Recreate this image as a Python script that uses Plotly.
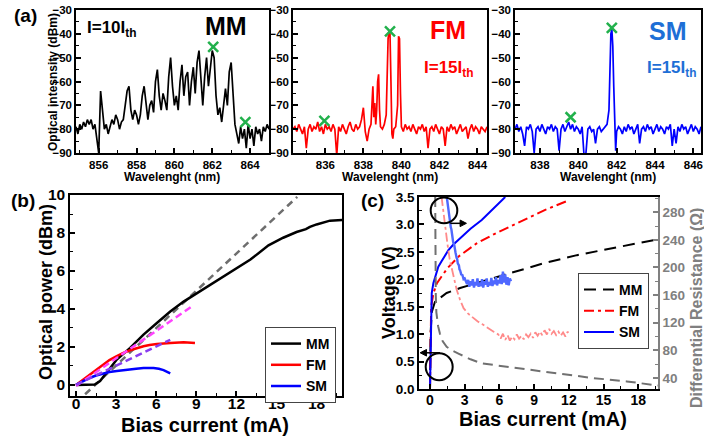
import plotly.graph_objects as go

W, H = 704, 437
FONT = "Liberation Sans"

# ---------------- (a) spectra ----------------
mm_wl = [854.8, 854.9, 855.0, 855.1, 855.2, 855.3, 855.4, 855.5, 855.6, 855.7, 855.8, 855.9,
         856.0, 856.1, 856.2, 856.3, 856.4, 856.5, 856.6, 856.7, 856.8, 856.9, 857.0, 857.1,
         857.2, 857.3, 857.4, 857.5, 857.6, 857.7, 857.8, 857.9, 858.0, 858.1, 858.2, 858.3,
         858.4, 858.5, 858.6, 858.7, 858.8, 858.9, 859.0, 859.1, 859.2, 859.3, 859.4, 859.5,
         859.6, 859.7, 859.8, 859.9, 860.0, 860.1, 860.2, 860.3, 860.4, 860.5, 860.6, 860.7,
         860.8, 860.9, 861.0, 861.1, 861.2, 861.3, 861.4, 861.5, 861.6, 861.7, 861.8, 861.9,
         862.0, 862.1, 862.2, 862.3, 862.4, 862.5, 862.6, 862.7, 862.8, 862.9, 863.0, 863.1,
         863.2, 863.3, 863.4, 863.5, 863.6, 863.7, 863.8, 863.9, 864.0, 864.1, 864.2, 864.3,
         864.4, 864.5, 864.6, 864.7, 864.8, 864.9, 865.0]
mm_db = [-79, -82, -78, -80, -77, -79, -76, -78, -76, -80, -78, -83,
         -90, -64, -72, -80, -78, -82, -79, -76, -78, -74, -76, -80,
         -77, -76, -70, -64, -62, -72, -76, -72, -74, -78, -74, -66,
         -62, -70, -76, -70, -68, -73, -60, -55, -66, -72, -65, -68,
         -72, -58, -50, -62, -70, -66, -72, -60, -53, -66, -58, -56,
         -70, -60, -54, -65, -52, -47, -60, -70, -58, -50, -62, -54,
         -47, -50, -66, -74, -71, -77, -70, -63, -70, -56, -52, -66,
         -78, -82, -86, -79, -84, -80, -88, -78, -84, -80, -87, -79,
         -82, -80, -85, -79, -81, -78, -80]

fm_wl = [834.3, 834.4, 834.5, 834.6, 834.7, 834.8, 834.9, 835.0, 835.1, 835.2, 835.3, 835.4,
         835.5, 835.6, 835.7, 835.8, 835.9, 836.0, 836.1, 836.2, 836.3, 836.4, 836.5, 836.6,
         836.7, 836.8, 836.9, 837.0, 837.1, 837.2, 837.3, 837.4, 837.5, 837.6, 837.7, 837.8,
         837.9, 838.0, 838.05, 838.1, 838.2, 838.3, 838.4, 838.45, 838.5, 838.55, 838.6, 838.65,
         838.7, 838.75, 838.8, 838.85, 838.9, 839.0, 839.1, 839.2, 839.25, 839.3, 839.35, 839.4,
         839.45, 839.5, 839.55, 839.6, 839.7, 839.8, 839.85, 839.9, 839.95, 840.0, 840.1, 840.2,
         840.3, 840.4, 840.5, 840.6, 840.7, 840.8, 840.9, 841.0, 841.1, 841.2, 841.3, 841.4,
         841.5, 841.6, 841.7, 841.8, 841.9, 842.0, 842.1, 842.2, 842.3, 842.4, 842.5, 842.6,
         842.7, 842.8, 842.9, 843.0, 843.1, 843.2, 843.3, 843.4, 843.5, 843.6, 843.7, 843.8,
         843.9, 844.0, 844.1, 844.2, 844.3, 844.4, 844.5]
fm_db = [-80, -79, -81, -78, -80, -82, -79, -88, -80, -78, -81, -79,
         -80, -77, -81, -79, -82, -78, -80, -79, -81, -78, -80, -91,
         -79, -81, -78, -80, -82, -79, -77, -80, -81, -78, -80, -79,
         -76, -71, -78, -81, -85, -80, -78, -70, -62, -75, -69, -78,
         -72, -60, -57, -72, -79, -80, -78, -74, -50, -42, -39, -40,
         -60, -82, -84, -80, -79, -70, -41, -42, -65, -79, -81, -78,
         -80, -79, -81, -78, -80, -82, -79, -80, -78, -81, -79, -88,
         -80, -79, -81, -78, -80, -82, -79, -80, -87, -79, -81, -78,
         -80, -79, -82, -80, -78, -81, -80, -79, -84, -80, -78, -81,
         -79, -80, -82, -79, -80, -81, -79]

sm_wl = [836.7, 836.8, 836.9, 837.0, 837.1, 837.2, 837.3, 837.4, 837.5, 837.6, 837.7, 837.8,
         837.9, 838.0, 838.1, 838.2, 838.3, 838.4, 838.5, 838.6, 838.7, 838.8, 838.9, 839.0,
         839.1, 839.2, 839.3, 839.4, 839.5, 839.6, 839.7, 839.8, 839.9, 840.0, 840.1, 840.2,
         840.3, 840.4, 840.5, 840.6, 840.7, 840.8, 840.9, 841.0, 841.1, 841.2, 841.3, 841.4,
         841.5, 841.6, 841.65, 841.7, 841.75, 841.8, 841.85, 841.9, 841.95, 842.0, 842.1, 842.2,
         842.3, 842.4, 842.5, 842.6, 842.7, 842.8, 842.9, 843.0, 843.1, 843.2, 843.3, 843.4,
         843.5, 843.6, 843.7, 843.8, 843.9, 844.0, 844.1, 844.2, 844.3, 844.4, 844.5, 844.6,
         844.7, 844.8, 844.9, 845.0, 845.1, 845.2, 845.3, 845.4, 845.5, 845.6, 845.7, 845.8,
         845.9, 846.0, 846.1, 846.2, 846.3, 846.4]
sm_db = [-80, -78, -81, -79, -82, -87, -79, -80, -78, -81, -90, -80,
         -79, -81, -78, -80, -82, -79, -80, -78, -81, -79, -80, -89,
         -80, -78, -81, -79, -77, -80, -78, -81, -79, -80, -82, -79,
         -91, -90, -80, -79, -81, -80, -86, -80, -79, -81, -80, -79,
         -78, -72, -55, -40, -38, -45, -62, -80, -89, -81, -79, -80,
         -82, -79, -81, -78, -80, -79, -82, -80, -78, -86, -80, -79,
         -81, -78, -80, -79, -82, -80, -78, -81, -79, -80, -82, -79,
         -80, -78, -87, -80, -86, -79, -81, -78, -80, -79, -82, -80,
         -78, -81, -79, -80, -82, -79]

mm_marks_wl = [862.05, 863.75]
mm_marks_db = [-45.5, -77]
fm_marks_wl = [835.95, 839.4]
fm_marks_db = [-76.5, -39]
sm_marks_wl = [839.6, 841.75]
sm_marks_db = [-75, -37.5]

# ---------------- (b) L-I ----------------
b_mm_i = [0, 0.5, 1.0, 1.4, 1.8, 2.3, 3.05, 4.05, 5.05, 6.05, 7.05, 8.05, 9.05,
          10.05, 11.05, 12.05, 13.05, 14.4, 15.5, 16.5, 17.2, 17.5, 18.0, 19.0, 19.9]
b_mm_p = [0, 0.0, 0.0, 0.02, 0.21, 0.64, 1.34, 1.95, 2.65, 3.26, 3.87, 4.39, 4.83,
          5.26, 5.7, 6.13, 6.6, 7.35, 7.75, 8.05, 8.2, 8.32, 8.45, 8.65, 8.68]
b_fm_i = [0, 0.5, 1.05, 1.5, 2.05, 2.5, 3.05, 3.5, 4.05, 4.5, 5.05, 5.5, 6.05, 7.05, 8.05, 8.9]
b_fm_p = [0, 0.27, 0.53, 0.8, 1.08, 1.31, 1.52, 1.68, 1.83, 1.94, 2.04, 2.1, 2.16, 2.21, 2.25, 2.21]
b_sm_i = [0, 0.5, 1.05, 1.5, 2.05, 2.5, 3.05, 3.5, 4.05, 4.5, 5.05, 5.5, 5.8, 6.2, 6.55, 7.05]
b_sm_p = [0, 0.2, 0.38, 0.5, 0.61, 0.68, 0.73, 0.78, 0.82, 0.86, 0.89, 0.9, 0.89, 0.85, 0.78, 0.61]
fit_mm_i = [0.68, 16.55]
fit_mm_p = [-0.49, 9.9]
fit_fm_i = [0.0, 8.8]
fit_fm_p = [-0.05, 4.2]
fit_sm_i = [0.0, 7.05]
fit_sm_p = [0.0, 2.38]

# ---------------- (c) V-I and differential resistance ----------------
c_mm_i = [0, 0.05, 0.15, 0.43, 1.44, 2.6, 4.0, 6.9, 9.8, 12.7, 15.6, 19.7]
c_mm_v = [0, 1.0, 1.4, 1.59, 1.75, 1.84, 1.93, 2.11, 2.29, 2.44, 2.56, 2.73]
c_fm_i = [0, 0.05, 0.1, 0.3, 0.6, 1.0, 1.5, 2.5, 4.0, 5.5, 7.0, 8.5, 10.0, 12.0]
c_fm_v = [0, 0.8, 1.5, 1.75, 1.93, 2.05, 2.2, 2.42, 2.65, 2.82, 2.97, 3.12, 3.27, 3.44]
c_sm_i = [0, 0.03, 0.06, 0.09, 0.15, 0.29, 0.5, 0.72, 1.0, 1.59, 2.0, 2.74, 3.5, 4.47, 5.5, 6.5]
c_sm_v = [0, 0.5, 1.0, 1.5, 1.75, 1.93, 2.1, 2.23, 2.33, 2.53, 2.63, 2.78, 2.92, 3.08, 3.3, 3.5]

r_mm_i = [0.45, 0.45, 0.48, 0.5, 0.55, 0.7, 0.86, 1.1, 1.44, 2.0, 2.5, 3.5, 4.5, 6.8, 9.8,
          11.5, 14.0, 17.0, 19.7]
r_mm_r = [302, 250, 200, 160, 135, 115, 104, 93, 85, 79, 75, 67, 61, 56, 49, 45, 40, 35, 29]

r_fm_i = [1.0, 1.15, 1.3, 1.5, 1.7, 1.9, 2.1, 2.3, 2.6, 2.9, 3.3, 3.7, 4.1, 4.5, 5.0, 5.5, 5.9,
          6.1, 6.3, 6.5, 6.7, 6.9, 7.1, 7.3, 7.5, 7.7, 7.9, 8.1, 8.3, 8.5, 8.7, 8.9, 9.1, 9.3,
          9.5, 9.7, 9.9, 10.1, 10.3, 10.5, 10.7, 10.9, 11.1, 11.3, 11.5, 11.7, 11.9, 12.0]
r_fm_r = [302, 280, 258, 235, 212, 197, 182, 168, 153, 141, 133, 127, 122, 118, 112, 107, 103,
          97, 104, 95, 102, 94, 100, 96, 103, 97, 101, 96, 103, 99, 104, 98, 106, 101,
          107, 102, 109, 103, 111, 104, 108, 102, 107, 101, 106, 100, 107, 103]

r_sm_i = [1.45, 1.55, 1.6, 1.7, 1.75, 1.8, 1.85, 1.9, 1.95, 2.0, 2.1, 2.15, 2.2, 2.3, 2.35, 2.4,
          2.5, 2.55, 2.6, 2.7, 2.8, 2.9, 3.0, 3.1, 3.2, 3.3, 3.4, 3.5, 3.6, 3.7, 3.8, 3.9, 4.0,
          4.1, 4.2, 4.3, 4.4, 4.5, 4.6, 4.7, 4.8, 4.9, 5.0, 5.1, 5.2, 5.3, 5.4, 5.5, 5.6, 5.7,
          5.8, 5.9, 6.0, 6.1, 6.2, 6.3, 6.4, 6.5, 6.6, 6.7, 6.8, 6.9, 7.0]
r_sm_r = [302, 288, 282, 270, 266, 258, 255, 247, 245, 237, 232, 224, 222, 214, 212, 206,
          203, 197, 196, 190, 189, 183, 184, 180, 176, 182, 172, 180, 174, 183, 171, 179, 174,
          184, 172, 178, 173, 183, 171, 180, 175, 184, 172, 179, 174, 185, 173, 181, 176, 186,
          174, 182, 177, 189, 176, 194, 178, 190, 175, 186, 174, 184, 180]


def px(x):
    return x / W


def py(y):
    return 1 - y / H


def axis(dom, rng, dtick, mdtick, fsize, anchor, tick0=0, color="black", linecolor="black",
         mirror=True, **kw):
    d = dict(domain=dom, range=rng, dtick=dtick, tick0=tick0, ticks="inside", ticklen=5,
             tickwidth=1.5, tickcolor=linecolor,
             minor=dict(ticks="inside", ticklen=3, dtick=mdtick, tick0=tick0,
                        tickcolor=linecolor, tickwidth=1.2),
             showline=True, linecolor=linecolor, linewidth=1.5, mirror=mirror,
             showgrid=False, zeroline=False, anchor=anchor, automargin=False,
             tickfont=dict(family=FONT, size=fsize, color=color, weight="bold"))
    d.update(kw)
    return d


fig = go.Figure()

GREEN = "#22b14c"
for xa, ya, wl, db, col, mwl, mdb in [
    ("x", "y", mm_wl, mm_db, "black", mm_marks_wl, mm_marks_db),
    ("x2", "y2", fm_wl, fm_db, "#ff0000", fm_marks_wl, fm_marks_db),
    ("x3", "y3", sm_wl, sm_db, "#0000ff", sm_marks_wl, sm_marks_db),
]:
    fig.add_trace(go.Scatter(x=wl, y=db, mode="lines", line=dict(color=col, width=1.7),
                             xaxis=xa, yaxis=ya, showlegend=False))
    fig.add_trace(go.Scatter(x=mwl, y=mdb, mode="markers", xaxis=xa, yaxis=ya,
                             marker=dict(symbol="x-thin", size=10, color=GREEN,
                                         line=dict(color=GREEN, width=2.5)),
                             showlegend=False, cliponaxis=False))

# (b)
fig.add_trace(go.Scatter(x=fit_mm_i, y=fit_mm_p, mode="lines", xaxis="x4", yaxis="y4",
                         line=dict(color="#6e6e6e", width=2.5, dash="7px,5px"), showlegend=False))
fig.add_trace(go.Scatter(x=b_mm_i, y=b_mm_p, mode="lines", xaxis="x4", yaxis="y4", name="MM",
                         line=dict(color="black", width=2.5), legend="legend"))
fig.add_trace(go.Scatter(x=b_fm_i, y=b_fm_p, mode="lines", xaxis="x4", yaxis="y4", name="FM",
                         line=dict(color="#ff0000", width=2.5), legend="legend"))
fig.add_trace(go.Scatter(x=b_sm_i, y=b_sm_p, mode="lines", xaxis="x4", yaxis="y4", name="SM",
                         line=dict(color="#0000ff", width=2.5), legend="legend"))
fig.add_trace(go.Scatter(x=fit_fm_i, y=fit_fm_p, mode="lines", xaxis="x4", yaxis="y4",
                         line=dict(color="#ff44ff", width=2.5, dash="7px,4px"), showlegend=False))
fig.add_trace(go.Scatter(x=fit_sm_i, y=fit_sm_p, mode="lines", xaxis="x4", yaxis="y4",
                         line=dict(color="#8a3cf0", width=2.5, dash="7px,4px"), showlegend=False))

# (c) resistance (right axis)
fig.add_trace(go.Scatter(x=r_mm_i, y=r_mm_r, mode="lines", xaxis="x5", yaxis="y6",
                         line=dict(color="#707070", width=2, dash="10px,6px"), showlegend=False))
fig.add_trace(go.Scatter(x=r_fm_i, y=r_fm_r, mode="lines", xaxis="x5", yaxis="y6",
                         line=dict(color="#ff8a8a", width=1.8, dash="9px,3px,3px,3px"),
                         showlegend=False))
fig.add_trace(go.Scatter(x=r_sm_i, y=r_sm_r, mode="lines", xaxis="x5", yaxis="y6",
                         line=dict(color="#4f68ff", width=2.4), showlegend=False))
# (c) voltage
fig.add_trace(go.Scatter(x=c_mm_i, y=c_mm_v, mode="lines", xaxis="x5", yaxis="y5", name="MM",
                         line=dict(color="black", width=2, dash="12px,7px"), legend="legend2"))
fig.add_trace(go.Scatter(x=c_fm_i, y=c_fm_v, mode="lines", xaxis="x5", yaxis="y5", name="FM",
                         line=dict(color="#ff0000", width=2, dash="10px,4px,3px,4px"),
                         legend="legend2"))
fig.add_trace(go.Scatter(x=c_sm_i, y=c_sm_v, mode="lines", xaxis="x5", yaxis="y5", name="SM",
                         line=dict(color="#0000ff", width=2), legend="legend2"))

ydomA = [py(153), py(10)]
leg = dict(xanchor="left", yanchor="top", bgcolor="white", bordercolor="#444", borderwidth=1,
           font=dict(family=FONT, size=14, weight="bold"), tracegroupgap=0, itemwidth=30)
lay = dict(
    width=W, height=H, margin=dict(l=0, r=0, t=0, b=0, autoexpand=False),
    paper_bgcolor="white", plot_bgcolor="white",
    font=dict(family=FONT, color="black"),
    xaxis=axis([px(76), px(269)], [854.8, 865.0], 2, 1, 11.5, "y", tick0=856),
    yaxis=axis(ydomA, [-90, -30], 10, 5, 11.5, "x"),
    xaxis2=axis([px(293), px(487)], [834.3, 844.5], 2, 1, 11.5, "y2", tick0=836),
    yaxis2=axis(ydomA, [-90, -30], 10, 5, 11.5, "x2"),
    xaxis3=axis([px(515), px(701)], [836.7, 846.4], 2, 1, 11.5, "y3", tick0=838),
    yaxis3=axis(ydomA, [-90, -30], 10, 5, 11.5, "x3"),
    xaxis4=axis([px(70), px(342)], [-0.45, 19.9], 3, 1.5, 15.5, "y4", ticklabelstandoff=-7),
    yaxis4=axis([py(396), py(195)], [-0.58, 10], 2, 1, 15.5, "x4"),
    xaxis5=axis([px(419), px(658)], [-0.95, 19.7], 3, 1.5, 14, "y5", ticklabelstandoff=-3),
    yaxis5=axis([py(389), py(197)], [0, 3.5], 0.5, 0.25, 13.5, "x5", mirror=False,
                tickformat=".1f"),
    yaxis6=axis([py(389), py(197)], [24, 302], 40, 20, 13.5, "x5", tick0=40, color="#808080",
                linecolor="#808080", mirror=False, side="right", overlaying="y5"),
    legend=dict(x=px(265), y=py(327), **leg),
    legend2=dict(x=px(578), y=py(273), **leg),
)
fig.update_layout(**lay)


def txt(x, y, s, size, color="black", angle=0):
    fig.add_annotation(x=px(x), y=py(y), xref="paper", yref="paper", text=s, showarrow=False,
                       textangle=angle, xanchor="center", yanchor="middle",
                       font=dict(family=FONT, size=size, color=color, weight="bold"))


SMBLUE = "#1e6fd6"
txt(25, 15, "(a)", 19)
txt(23, 201, "(b)", 19)
txt(372, 201, "(c)", 19)
txt(112, 29, "I=10I<sub>th</sub>", 17)
txt(226, 26, "MM", 25)
txt(448, 30, "FM", 25, "#ff0000")
txt(449, 69, "I=15I<sub>th</sub>", 17, "#ff0000")
txt(668, 31, "SM", 25, SMBLUE)
txt(672, 69, "I=15I<sub>th</sub>", 17, SMBLUE)
txt(53, 82, "Optical intesnsity (dBm)", 12, angle=-90)
for cx in [172, 390, 608]:
    txt(cx, 177, "Wavelenght (nm)", 12)
txt(46, 292, "Optical power (dBm)", 18, angle=-90)
txt(205, 425, "Bias current (mA)", 20)
txt(389, 293, "Voltage (V)", 18, angle=-90)
txt(543, 419, "Bias current (mA)", 20)
txt(696, 308, "Differential Resistance (\u03a9)", 16, "#808080", angle=-90)

# circles and arrows in (c)
ln = dict(color="black", width=2)
fig.add_shape(type="circle", xref="x5", yref="y5", x0=0.06, x1=2.36, y0=3.02, y1=3.49, line=ln)
fig.add_shape(type="circle", xref="x5", yref="y5", x0=-0.37, x1=1.96, y0=0.16, y1=0.65, line=ln)
fig.add_shape(type="line", xref="x5", yref="y5", x0=1.75, x1=2.7, y0=3.02, y1=3.02,
              line=dict(color="black", width=1.5))
fig.add_shape(type="path", xref="x5", yref="y5", path="M 3.15,3.02 L 2.6,3.08 L 2.6,2.96 Z",
              fillcolor="black", line=dict(color="black", width=1))
fig.add_shape(type="line", xref="x5", yref="y5", x0=0.87, x1=-0.35, y0=0.66, y1=0.66,
              line=dict(color="black", width=1.5))
fig.add_shape(type="path", xref="x5", yref="y5", path="M -0.85,0.66 L -0.3,0.72 L -0.3,0.60 Z",
              fillcolor="black", line=dict(color="black", width=1))

fig.write_html("out.html", config={"displayModeBar": False},
               post_script="document.body.style.margin='0';"
               "document.body.style.overflow='hidden';")
